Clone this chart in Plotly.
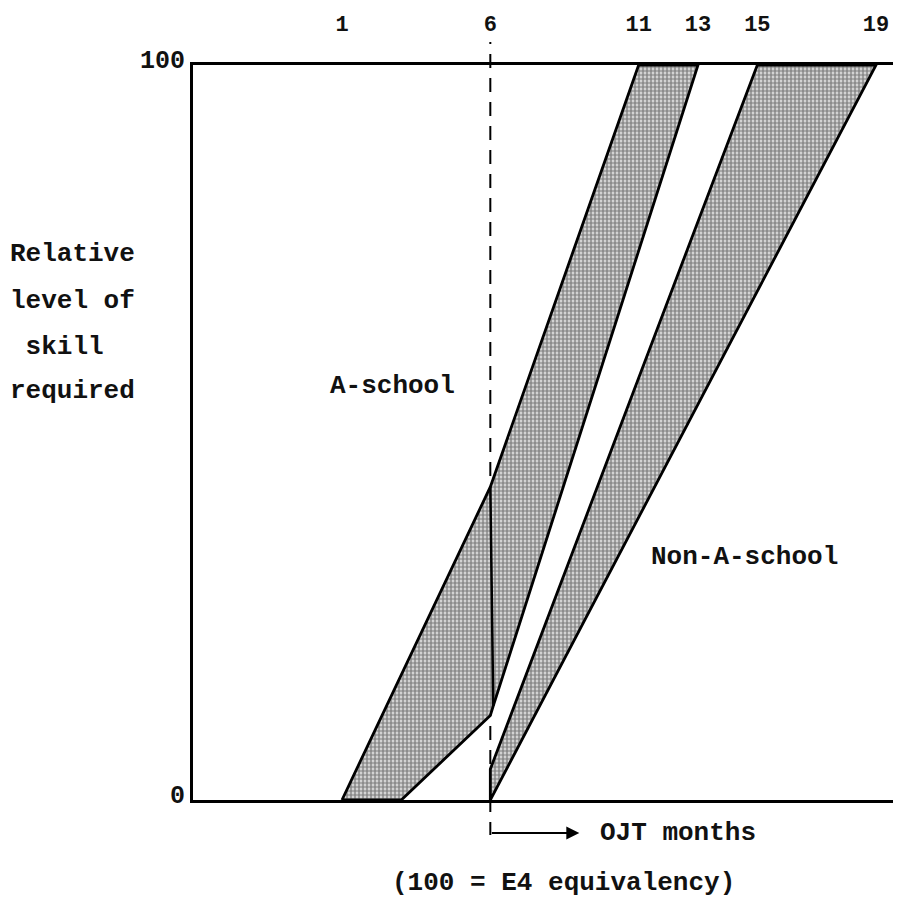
import plotly.graph_objects as go

# ---- data (months, relative skill level) ----
a_school_x = [1, 6, 11, 13, 6.1, 6.0, 3, 1]
a_school_y = [0, 42.6, 100, 100, 12.8, 11.5, 0, 0]
a_inner_x = [6.0, 6.1]
a_inner_y = [42.6, 12.8]
non_a_x = [6, 6, 15, 19, 6]
non_a_y = [0, 4.2, 100, 100, 0]
top_ticks = [1, 6, 11, 13, 15, 19]
y_ticks = [0, 100]
ojt_start = 6
ojt_arrow_end = 9

FONT = "Liberation Mono"
TXT = dict(family=FONT, size=26, color="#111111", weight="bold")
pattern = dict(shape=".", size=4, solidity=0.7, fgcolor="#2a2a2a", bgcolor="#eeeeee")

# page body has an 8px margin: plot area placed so the frame lands where the reference has it
W, H = 885, 892
L, T, B, R = 185, 57, 100, 0
PW, PH = W - L - R, H - T - B


def px_x(px):
    return (px - 8 - L) / PW


def px_y(py):
    return (8 + T + PH - py) / PH


fig = go.Figure()
fig.add_trace(go.Scatter(x=a_school_x, y=a_school_y, mode="lines", fill="toself",
                         fillpattern=pattern, fillcolor="#eeeeee",
                         line=dict(color="black", width=2.8), hoverinfo="skip"))
fig.add_trace(go.Scatter(x=a_inner_x, y=a_inner_y, mode="lines",
                         line=dict(color="black", width=2.5), hoverinfo="skip"))
fig.add_trace(go.Scatter(x=non_a_x, y=non_a_y, mode="lines", fill="toself",
                         fillpattern=pattern, fillcolor="#eeeeee",
                         line=dict(color="black", width=2.8), hoverinfo="skip"))

# dashed OJT start line
fig.add_shape(type="line", xref="x", yref="y domain", x0=ojt_start, x1=ojt_start,
              y0=px_y(812), y1=px_y(42), line=dict(color="black", width=2, dash="14px,10px"),
              layer="below")
# small vertical stub of the OJT arrow
fig.add_shape(type="line", xref="x", yref="y domain", x0=ojt_start, x1=ojt_start,
              y0=px_y(822), y1=px_y(835), line=dict(color="black", width=2))
fig.add_annotation(x=ojt_arrow_end, y=px_y(833), xref="x", yref="y domain",
                   ax=ojt_start, ay=px_y(833), axref="x", ayref="y domain",
                   showarrow=True, arrowhead=2, arrowsize=1.3, arrowwidth=2,
                   arrowcolor="black", text="")
fig.add_annotation(x=px_x(598), y=px_y(833), xref="paper", yref="paper", xanchor="left",
                   yanchor="middle", text="OJT months", showarrow=False, font=TXT)
fig.add_annotation(x=px_x(563), y=px_y(883), xref="paper", yref="paper", xanchor="center",
                   yanchor="middle", text="(100 = E4 equivalency)", showarrow=False, font=TXT)
fig.add_annotation(x=2.69, y=56.3, xref="x", yref="y", text="A-school", showarrow=False,
                   font=TXT)
fig.add_annotation(x=14.58, y=33.1, xref="x", yref="y", text="Non-A-school", showarrow=False,
                   font=TXT)

left_lines = ["Relative", "level of", "\u00a0skill", "required"]
left_y = [254, 301, 347, 391]
for txt, py in zip(left_lines, left_y):
    fig.add_annotation(x=px_x(8), y=px_y(py), xref="paper", yref="paper",
                       xanchor="left", yanchor="middle", text=txt, showarrow=False, font=TXT)

x_lo = (8 + L - 312.3) / 29.67
x_hi = (8 + L + PW - 312.3) / 29.67

fig.update_layout(
    width=W, height=H,
    margin=dict(l=L, r=R, t=T, b=B, autoexpand=False),
    paper_bgcolor="white", plot_bgcolor="white",
    showlegend=False,
    xaxis=dict(range=[x_lo, x_hi], side="top", tickvals=top_ticks,
               ticktext=[str(v) for v in top_ticks], showgrid=False, zeroline=False,
               showline=True, mirror=True, linecolor="black", linewidth=3,
               ticks="", ticklabelstandoff=22,
               tickfont=dict(family=FONT, size=22, color="#111111", weight="bold")),
    yaxis=dict(range=[0, 100], tickvals=y_ticks, ticktext=["0", "100"],
               showgrid=False, zeroline=False, showline=True, mirror=False,
               linecolor="black", linewidth=3, ticks="", ticklabelshift=-6,
               tickfont=dict(family=FONT, size=25, color="#111111", weight="bold")),
)

fig.write_html("out.html")
